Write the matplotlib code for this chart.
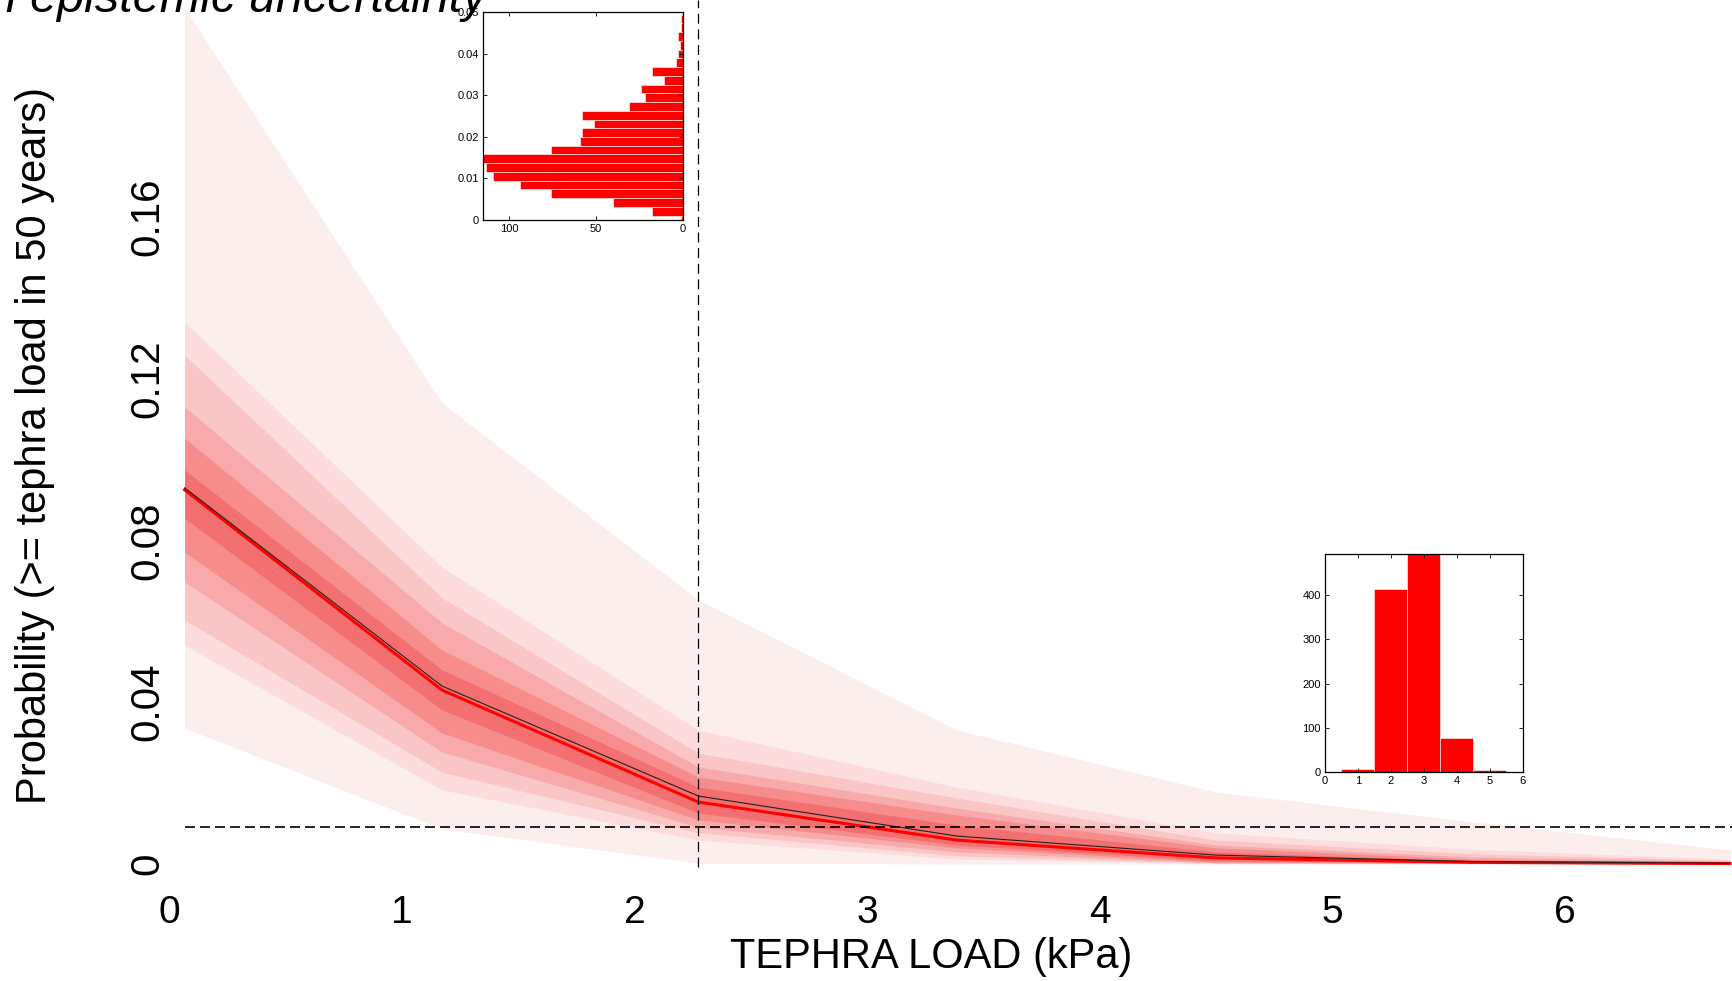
import matplotlib
matplotlib.use('Agg')
import matplotlib.pyplot as plt

plt.rcParams['font.family'] = ['Liberation Sans', 'DejaVu Sans']

# Tephra load (kPa) at which the hazard curves were evaluated
loads = [0.067, 1.173, 2.275, 3.386, 4.499, 5.603, 6.708]

# Central curves
median = [0.0925, 0.0430, 0.0153, 0.0059, 0.0015, 0.0004, 0.0001]
mean = [0.0930, 0.0440, 0.0168, 0.0069, 0.0022, 0.0006, 0.0002]

# Uncertainty bands, outermost (1) to innermost (6)
band1_hi = [0.2116, 0.1140, 0.0653, 0.0331, 0.0178, 0.0104, 0.0035]
band2_hi = [0.1340, 0.0734, 0.0331, 0.0190, 0.0077, 0.0036, 0.0012]
band3_hi = [0.1258, 0.0658, 0.0274, 0.0163, 0.0059, 0.0025, 0.0009]
band4_hi = [0.1130, 0.0596, 0.0240, 0.0138, 0.0047, 0.0017, 0.0007]
band5_hi = [0.1053, 0.0529, 0.0215, 0.0121, 0.0040, 0.0012, 0.0005]
band6_hi = [0.0974, 0.0480, 0.0190, 0.0096, 0.0030, 0.0008, 0.0003]
band6_lo = [0.0855, 0.0381, 0.0126, 0.0047, 0.0008, 0.0003, 0.0001]
band5_lo = [0.0771, 0.0324, 0.0109, 0.0040, 0.0005, 0.0002, 0.00008]
band4_lo = [0.0697, 0.0277, 0.0091, 0.0030, 0.0003, 0.00015, 0.00005]
band3_lo = [0.0603, 0.0227, 0.0077, 0.0020, 0.0002, 0.0001, 0.00003]
band2_lo = [0.0541, 0.0183, 0.0059, 0.0012, 0.0001, 0.00005, 0.00001]
band1_lo = [0.0336, 0.0087, 0.0002, 0.0, 0.0, 0.0, 0.0]
band_colors = ['#fdeeee', '#fcdcdc', '#fac5c5', '#f8a9a9', '#f68c8c', '#f46f6f']

# Reference lines
load_section = 2.275
prob_threshold = 0.0091

# Inset: probabilities at load_section
prob_bins = [0.0, 0.0021, 0.0042, 0.0063, 0.0084, 0.0105, 0.0126, 0.0147,
             0.0168, 0.0189, 0.0210, 0.0231, 0.0252, 0.0273, 0.0294, 0.0315,
             0.0336, 0.0357, 0.0378, 0.0399, 0.0420, 0.0441, 0.0462, 0.0483]
prob_counts = [1, 18, 40, 76, 94, 109, 113, 115, 76, 59, 58, 51,
               58, 31, 22, 24, 11, 18, 4, 3, 2, 3, 1, 1]

# Inset: loads at prob_threshold
load_bins = [1, 2, 3, 4, 5]
load_counts = [6, 413, 493, 76, 4]

xticks = [0, 1, 2, 3, 4, 5, 6]
yticks = [0, 0.04, 0.08, 0.12, 0.16]
ytick_labels = ['0', '0.04', '0.08', '0.12', '0.16']

W, H = 1733, 981
fig = plt.figure(figsize=(W / 100, H / 100), dpi=100)

ax = fig.add_axes([160 / W, 1 - 880 / H, (W - 160) / W, 880 / H])
ax.set_xlim(-0.0387, 6.721)
ax.set_ylim(-0.00396, 0.2136)

his = [band1_hi, band2_hi, band3_hi, band4_hi, band5_hi, band6_hi]
los = [band1_lo, band2_lo, band3_lo, band4_lo, band5_lo, band6_lo]
for hi, lo, c in zip(his, los, band_colors):
    ax.fill_between(loads, lo, hi, color=c, lw=0)

ax.plot(loads, median, color='#ff0000', lw=2.2, solid_joinstyle='miter')
ax.plot(loads, mean, color='#222222', lw=0.8)

ax.vlines(load_section, -0.0008, 0.2136, colors='k', lw=0.9,
          linestyles=(0, (8, 4.5)), zorder=4)
ax.hlines(prob_threshold, loads[0], 6.721, colors='k', lw=1.2,
          linestyles=(0, (6, 3)), zorder=4)

for s in ax.spines.values():
    s.set_visible(False)
ax.set_xticks(xticks, [str(t) for t in xticks], fontsize=28)
ax.set_yticks(yticks, ytick_labels, fontsize=29, rotation=90,
              ha='center', va='center')
ax.tick_params(axis='x', length=0, pad=10.8)
ax.tick_params(axis='y', length=0, pad=9.4)

ax.set_xlabel('TEPHRA LOAD (kPa)', fontsize=30)
ax.xaxis.set_label_coords((931 - 160) / (W - 160), (880 - 937) / 880)
ax.set_ylabel('Probability (>= tephra load in 50 years)', fontsize=30, va='center')
ax.yaxis.set_label_coords((35 - 160) / (W - 160), (880 - 445) / 880)

fig.text(487 / W, 1 - 12 / H, 'Hazard curve with an epistemic uncertainty',
         ha='right', va='baseline', fontsize=35, style='italic')

# Top inset: distribution of probability at the marked load
ax1 = fig.add_axes([483 / W, 1 - 220 / H, 200 / W, 208 / H])
ax1.barh(prob_bins, prob_counts, height=0.0021, color='#ff0000',
         edgecolor='white', lw=0.4)
ax1.set_xlim(max(prob_counts), 0)
ax1.set_ylim(0, 0.05)
ax1.set_xticks([100, 50, 0], ['100', '50', '0'])
ax1.set_yticks([0, 0.01, 0.02, 0.03, 0.04, 0.05],
               ['0', '0.01', '0.02', '0.03', '0.04', '0.05'])

# Bottom inset: distribution of load at the marked probability
ax2 = fig.add_axes([1325 / W, 1 - 772 / H, 198 / W, 218 / H])
ax2.bar(load_bins, load_counts, width=1, color='#ff0000',
        edgecolor='white', lw=0.4)
ax2.set_xlim(0, 6)
ax2.set_ylim(0, max(load_counts))
ax2.set_xticks(xticks)
ax2.set_yticks([0, 100, 200, 300, 400])

for a in (ax1, ax2):
    a.tick_params(direction='in', top=True, right=True, length=3,
                  width=0.6, labelsize=8, pad=3)
    for s in a.spines.values():
        s.set_linewidth(0.9)

fig.savefig('out.png', dpi=100)
